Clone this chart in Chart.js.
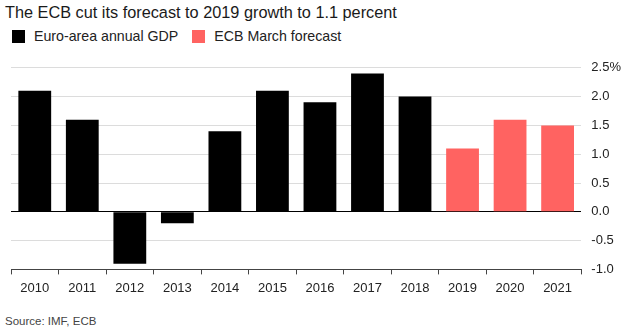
<!DOCTYPE html>
<html>
<head>
<meta charset="utf-8">
<script src="https://cdn.jsdelivr.net/npm/chart.js@4"></script>
<style>
  body { margin: 0; width: 639px; height: 330px; background: #fff; font-family: "Liberation Sans", Arial, sans-serif; position: relative; overflow: hidden; }
  .title { position: absolute; left: 5px; top: 3px; font-size: 16.3px; color: #1a1a1a; }
  .legend { position: absolute; left: 12px; top: 28px; font-size: 14.2px; color: #222; display: flex; align-items: center; }
  .legend span.box { display: inline-block; width: 13px; height: 13px; margin-right: 9px; }
  .legend .item { display: flex; align-items: center; margin-right: 14px; }
  .source { position: absolute; left: 5px; top: 315px; font-size: 11.5px; color: #444; }
  .wrap { position: absolute; left: 0; top: 50px; width: 639px; height: 252px; }
</style>
</head>
<body>
<div class="title">The ECB cut its forecast to 2019 growth to 1.1 percent</div>
<div class="legend">
  <div class="item"><span class="box" style="background:#000"></span>Euro-area annual GDP</div>
  <div class="item"><span class="box" style="background:#ff6361"></span>ECB March forecast</div>
</div>
<div class="wrap"><canvas id="chart"></canvas></div>
<div class="source">Source: IMF, ECB</div>

<script>
// data
const years = ['2010', '2011', '2012', '2013', '2014', '2015', '2016', '2017', '2018', '2019', '2020', '2021'];
const gdpActual = [2.1, 1.6, -0.9, -0.2, 1.4, 2.1, 1.9, 2.4, 2.0, null, null, null];
const ecbForecast = [null, null, null, null, null, null, null, null, null, 1.1, 1.6, 1.5];

const ctx = document.getElementById('chart');
new Chart(ctx, {
  type: 'bar',
  data: {
    labels: years,
    datasets: [
      { label: 'Euro-area annual GDP', data: gdpActual, backgroundColor: '#000', barPercentage: 0.69, categoryPercentage: 1 },
      { label: 'ECB March forecast', data: ecbForecast, backgroundColor: '#ff6361', barPercentage: 0.69, categoryPercentage: 1 }
    ]
  },
  options: {
    responsive: true,
    maintainAspectRatio: false,
    animation: false,
    layout: { padding: { top: 12, left: 11, right: 8, bottom: 0 } },
    plugins: { legend: { display: false }, tooltip: { enabled: false } },
    scales: {
      x: {
        stacked: true,
        grid: { drawOnChartArea: false, drawTicks: true, tickLength: 5, color: '#444' },
        border: { display: true, color: '#444' },
        ticks: { color: '#222', font: { family: 'Liberation Sans', size: 13 }, padding: 6, maxRotation: 0 }
      },
      y: {
        position: 'right',
        min: -1,
        max: 2.5,
        grid: {
          drawTicks: false,
          color: (c) => c.tick && c.tick.value === 0 ? '#000' : (c.tick && c.tick.value === -1 ? '#444' : '#dcdcdc'),
          lineWidth: 1
        },
        border: { display: false },
        ticks: {
          stepSize: 0.5,
          padding: 10,
          color: '#222',
          font: { family: 'Liberation Sans', size: 13 },
          callback: (v) => v === 2.5 ? '2.5%' : v.toFixed(1)
        }
      }
    }
  }
});
</script>
</body>
</html>
